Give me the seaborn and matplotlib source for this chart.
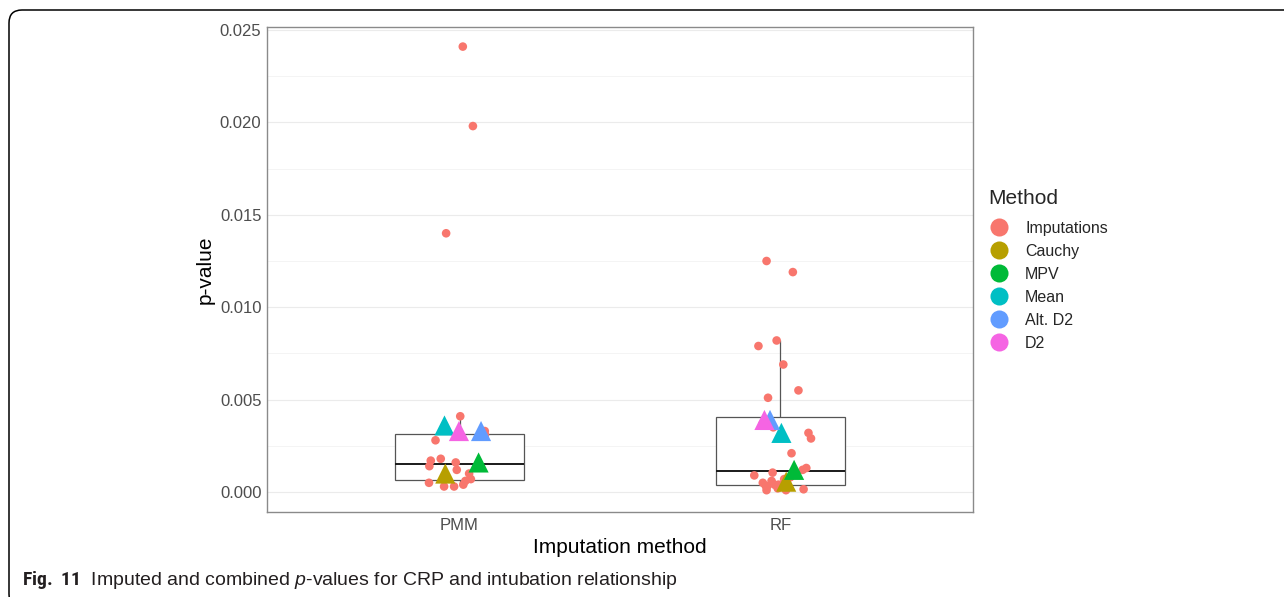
import numpy as np
import pandas as pd
import matplotlib
matplotlib.use("Agg")
import matplotlib.pyplot as plt
from matplotlib.lines import Line2D
from matplotlib.patches import FancyBboxPatch
from matplotlib import font_manager
import seaborn as sns

# ---------------- data ----------------
methods = ["PMM", "RF"]
pmm_imputations = [0.0241, 0.0198, 0.0140, 0.0041, 0.0033, 0.0031, 0.0028,
                   0.0018, 0.0017, 0.0016, 0.0014, 0.0012, 0.0010, 0.0008,
                   0.0007, 0.0006, 0.0005, 0.0004, 0.0003, 0.0003]
rf_imputations = [0.0125, 0.0119, 0.0082, 0.0079, 0.0069, 0.0055, 0.0051,
                  0.0037, 0.0035, 0.0032, 0.0029, 0.0021, 0.0013, 0.0012,
                  0.00105, 0.0009, 0.0008, 0.0007, 0.0006, 0.0005, 0.0004,
                  0.0004, 0.00034, 0.0003, 0.0002, 0.00015, 0.0001, 0.0001]
combined_labels = ["Cauchy", "MPV", "Mean", "Alt. D2", "D2"]
pmm_combined = [0.0010, 0.0016, 0.0036, 0.0033, 0.0033]
rf_combined = [0.00056, 0.0012, 0.0032, 0.0039, 0.0039]
legend_order = ["Imputations", "Cauchy", "MPV", "Mean", "Alt. D2", "D2"]
y_ticks = [0.000, 0.005, 0.010, 0.015, 0.020, 0.025]

# ---------------- styling ----------------
palette = dict(zip(legend_order, ["#F8766D", "#B79F00", "#00BA38",
                                  "#00BFC4", "#619CFF", "#F564E3"]))

sns.set_theme(style="white")
avail = {f.name for f in font_manager.fontManager.ttflist}
main_font = "Liberation Sans" if "Liberation Sans" in avail else "DejaVu Sans"
bold_font = next((f for f in ["Liberation Sans Narrow", "Roboto Condensed",
                              "Liberation Sans"] if f in avail), main_font)
plt.rcParams["font.family"] = [main_font, "DejaVu Sans"]
plt.rcParams["mathtext.fontset"] = "custom"
plt.rcParams["mathtext.rm"] = main_font
plt.rcParams["mathtext.it"] = main_font + ":italic"
plt.rcParams["mathtext.bf"] = bold_font + ":bold"

imp = pd.DataFrame({
    "method": ["PMM"] * len(pmm_imputations) + ["RF"] * len(rf_imputations),
    "p": pmm_imputations + rf_imputations,
    "Method": "Imputations",
})
comb = pd.DataFrame({
    "method": ["PMM"] * len(pmm_combined) + ["RF"] * len(rf_combined),
    "p": pmm_combined + rf_combined,
    "Method": combined_labels * 2,
})

W, H = 1284, 597
fig = plt.figure(figsize=(W / 100, H / 100), dpi=100)
ax = fig.add_axes([267 / W, 1 - 512 / H, (973 - 267) / W, (512 - 27) / H])
ax.set_facecolor("white")

# gridlines
ax.set_axisbelow(True)
ax.yaxis.set_minor_locator(matplotlib.ticker.MultipleLocator(0.0025))
ax.grid(True, which="major", color="#EBEBEB", linewidth=0.8)
ax.grid(True, which="minor", axis="y", color="#F2F2F2", linewidth=0.6)

sns.boxplot(data=imp, x="method", y="p", order=methods, width=0.4,
            showfliers=False, showcaps=False, color="white",
            linecolor="#555555", linewidth=0.9, whis=1.5,
            medianprops={"color": "#1A1A1A", "linewidth": 1.4},
            ax=ax, zorder=2)

np.random.seed(3)
sns.stripplot(data=imp, x="method", y="p", order=methods, hue="Method",
              palette=palette, jitter=0.1, size=6.2, linewidth=0,
              ax=ax, legend=False, zorder=3)
np.random.seed(5)
sns.stripplot(data=comb, x="method", y="p", order=methods, hue="Method",
              hue_order=combined_labels, palette=palette, jitter=0.08,
              marker="^", size=14.5, linewidth=0, ax=ax, legend=False,
              zorder=4)

ax.set_xlim(-0.6, 1.6)
ax.set_ylim(-0.00108, 0.02516)
ax.set_yticks(y_ticks)
ax.set_yticklabels([f"{v:.3f}" for v in y_ticks])
ax.tick_params(axis="both", length=0, labelsize=12, labelcolor="#4D4D4D", pad=4)
for s in ax.spines.values():
    s.set_visible(True)
    s.set_color("#8A8A8A")
    s.set_linewidth(1.0)
ax.set_xlabel("Imputation method", fontsize=15, color="black", labelpad=4)
ax.set_ylabel("p-value", fontsize=15, color="black", labelpad=4)

handles = [Line2D([], [], marker="o", linestyle="", markersize=13,
                  markerfacecolor=palette[m], markeredgewidth=0)
           for m in legend_order]
leg = fig.legend(handles, legend_order, title="Method", loc="upper left",
                 bbox_to_anchor=(982 / W, 1 - 183 / H), frameon=False,
                 fontsize=11.5, title_fontsize=15, labelspacing=0.5,
                 handletextpad=1.0, handlelength=1.3, borderaxespad=0)
leg._legend_box.align = "left"
leg._legend_box.sep = 9

# outer frame and caption
frame = FancyBboxPatch((0.09, -0.1), 13.5, 5.97 - 0.10 + 0.1,
                       boxstyle="round,pad=0,rounding_size=0.13",
                       transform=fig.dpi_scale_trans, fill=False,
                       edgecolor="black", linewidth=1.1)
fig.add_artist(frame)
fig.text(22 / W, 1 - 580 / H,
         r"$\mathbf{Fig.\ 11}$  Imputed and combined $\mathit{p}$-values for CRP and intubation relationship",
         fontsize=14, va="center", ha="left", color="#231F20")

fig.savefig("out.png", dpi=100)
